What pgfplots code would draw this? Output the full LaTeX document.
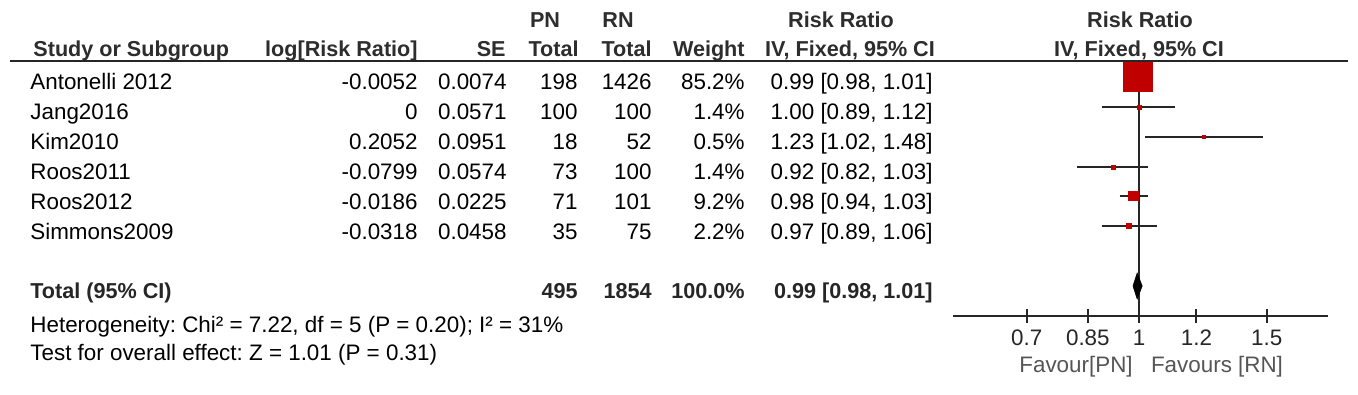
\documentclass[border=0pt]{standalone}
\usepackage{pgfplots}
\pgfplotsset{compat=1.18}
\usepackage{fontspec}
\setmainfont{Liberation Sans}
\definecolor{boxred}{RGB}{192,0,0}
\definecolor{hdr}{RGB}{45,45,45}
\definecolor{fav}{RGB}{85,85,85}
\frenchspacing
\begin{document}
\begin{tikzpicture}
\tikzset{
  bt/.style={font=\fontsize{11.2}{13}\selectfont, inner sep=0pt, text=black},
  r/.style={bt, anchor=base east},
  l/.style={bt, anchor=base west},
  hr/.style={font=\fontsize{10.8}{13}\selectfont\bfseries, inner sep=0pt, text=hdr, anchor=base east},
  hl/.style={font=\fontsize{10.8}{13}\selectfont\bfseries, inner sep=0pt, text=hdr, anchor=base west},
  hc/.style={font=\fontsize{10.8}{13}\selectfont\bfseries, inner sep=0pt, text=hdr, anchor=base},
  tr/.style={font=\fontsize{10.8}{13}\selectfont\bfseries, inner sep=0pt, text=black!85, anchor=base east},
}
\begin{scope}[x=0.5pt,y=0.5pt]
\useasboundingbox (0,0) rectangle (1358,-395);
% header
\node[hc] at (545,-28) {PN};
\node[hc] at (618,-28) {RN};
\node[hc] at (841,-28) {Risk Ratio};
\node[hc] at (1140,-28) {Risk Ratio};
\node[hl] at (33,-57) {Study or Subgroup};
\node[hr] at (418,-57) {log[Risk Ratio]};
\node[hr] at (506,-57) {SE};
\node[hr] at (579,-57) {Total};
\node[hr] at (652,-57) {Total};
\node[hr] at (745,-57) {Weight};
\node[hc] at (850,-57) {IV, Fixed, 95\% CI};
\node[hc] at (1139,-57) {IV, Fixed, 95\% CI};
\draw[line width=1pt, black!85] (10,-61) -- (1348,-61);
% body rows
\foreach \y/\name/\lrr/\se/\pn/\rn/\w/\ci in {
  90/Antonelli 2012/-0.0052/0.0074/198/1426/85.2\%/{0.99 [0.98, 1.01]},
  120/Jang2016/0/0.0571/100/100/1.4\%/{1.00 [0.89, 1.12]},
  150/Kim2010/0.2052/0.0951/18/52/0.5\%/{1.23 [1.02, 1.48]},
  180/Roos2011/-0.0799/0.0574/73/100/1.4\%/{0.92 [0.82, 1.03]},
  210/Roos2012/-0.0186/0.0225/71/101/9.2\%/{0.98 [0.94, 1.03]},
  240/Simmons2009/-0.0318/0.0458/35/75/2.2\%/{0.97 [0.89, 1.06]}}{
  \node[l] at (30,-\y) {\name};
  \node[r] at (418,-\y) {\lrr};
  \node[r] at (507,-\y) {\se};
  \node[r] at (578,-\y) {\pn};
  \node[r] at (652,-\y) {\rn};
  \node[r] at (745,-\y) {\w};
  \node[r] at (933,-\y) {\ci};
}
% total row
\node[font=\fontsize{10.8}{13}\selectfont\bfseries, inner sep=0pt, text=black!85, anchor=base west] at (30,-298) {Total (95\% CI)};
\node[tr] at (578,-298) {495};
\node[tr] at (652,-298) {1854};
\node[tr] at (745,-298) {100.0\%};
\node[tr] at (933,-298) {0.99 [0.98, 1.01]};
\node[l] at (30,-332) {Heterogeneity: Chi² = 7.22, df = 5 (P = 0.20); I² = 31\%};
\node[l] at (30,-360) {Test for overall effect: Z = 1.01 (P = 0.31)};
% favour labels
\node[bt, text=fav, anchor=base] at (1076,-372) {Favour[PN]};
\node[bt, text=fav, anchor=base] at (1217,-372) {Favours [RN]};
\end{scope}
% forest plot
\begin{axis}[
  at={(476.5pt,-158pt)}, anchor=south west,
  width=187.5pt, height=127.5pt, scale only axis,
  xmode=log, xmin=0.554, xmax=1.822,
  ymin=-316, ymax=-61,
  axis x line=bottom, axis y line=none,
  axis line style={-, black!85, line width=1pt},
  xtick={0.7,0.85,1,1.2,1.5},
  xticklabels={0.7,0.85,1,1.2,1.5},
  minor xtick={},
  xtick align=center, major tick length=7pt,
  xtick style={draw=black!85, line width=1pt},
  ticklabel style={font=\fontsize{11.2}{13}\selectfont, text=black!85},
  clip=false,
]
\draw[black!85, line width=0.9pt] (axis cs:1,-61) -- (axis cs:1,-316);
% CI lines
\addplot[black!85, line width=1pt] coordinates {(0.98,-77) (1.01,-77)};
\addplot[black!85, line width=1pt] coordinates {(0.89,-107) (1.12,-107)};
\addplot[black!85, line width=1pt] coordinates {(1.02,-137) (1.48,-137)};
\addplot[black!85, line width=1pt] coordinates {(0.82,-167) (1.03,-167)};
\addplot[black!85, line width=1pt] coordinates {(0.94,-196) (1.03,-196)};
\addplot[black!85, line width=1pt] coordinates {(0.89,-226) (1.06,-226)};
% weighted squares
\addplot[only marks, mark=square*, mark size=7.25pt, color=boxred] coordinates {(0.9948,-77)};
\addplot[only marks, mark=square*, mark size=1.0pt, color=boxred] coordinates {(1.0,-107)};
\addplot[only marks, mark=square*, mark size=0.9pt, color=boxred] coordinates {(1.2278,-137)};
\addplot[only marks, mark=square*, mark size=1.0pt, color=boxred] coordinates {(0.9232,-167)};
\addplot[only marks, mark=square*, mark size=2.4pt, color=boxred] coordinates {(0.9816,-196)};
\addplot[only marks, mark=square*, mark size=1.2pt, color=boxred] coordinates {(0.9687,-226)};
% diamond
\addplot[fill=black, draw=black, line width=0.3pt] coordinates {(0.981,-286) (0.994,-273) (1.01,-286) (0.994,-299)} -- cycle;
\end{axis}
\end{tikzpicture}
\end{document}
